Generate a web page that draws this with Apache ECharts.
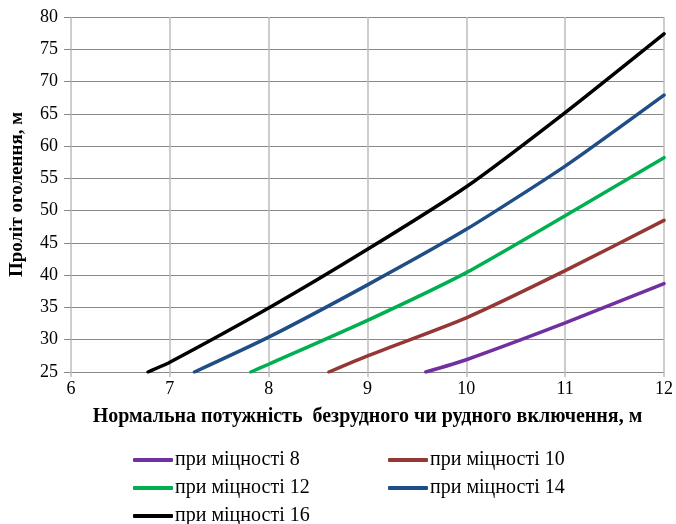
<!DOCTYPE html>
<html>
<head>
<meta charset="utf-8">
<script src="https://cdn.jsdelivr.net/npm/echarts@6/dist/echarts.min.js"></script>
<style>
  html, body { margin: 0; padding: 0; background: #fff; }
  #chart { width: 676px; height: 524px; }
</style>
</head>
<body>
<div id="chart"></div>
<script>
// Span of the exposure vs. normal thickness of the barren/ore inclusion, per strength grade
const seriesNames = ['при міцності 8', 'при міцності 10', 'при міцності 12', 'при міцності 14', 'при міцності 16'];
const seriesColors = ['#7030A0', '#953735', '#00B050', '#1F4E87', '#000000'];

// [thickness, span] pairs for each strength grade
const strength8  = [[9.59, 25], [10, 26.9], [11, 32.6], [12, 38.7]];
const strength10 = [[8.61, 25], [9, 27.5], [10, 33.4], [11, 40.7], [12, 48.5]];
const strength12 = [[7.82, 25], [8, 26.2], [9, 33.0], [10, 40.4], [11, 49.2], [12, 58.2]];
const strength14 = [[7.25, 25], [8, 30.4], [9, 38.5], [10, 47.1], [11, 56.9], [12, 67.9]];
const strength16 = [[6.78, 25], [7, 26.5], [8, 34.9], [9, 44.0], [10, 53.7], [11, 65.2], [12, 77.4]];
const seriesData = [strength8, strength10, strength12, strength14, strength16];

const xTicks = [6, 7, 8, 9, 10, 11, 12];
const yTicks = [25, 30, 35, 40, 45, 50, 55, 60, 65, 70, 75, 80];

const serif = '"Liberation Serif", "Times New Roman", serif';

// Legend entries laid out in two columns, one legend component per entry
const legendSlots = [
  { left: 133, top: 450 },
  { left: 388, top: 450 },
  { left: 133, top: 478 },
  { left: 388, top: 478 },
  { left: 133, top: 506 }
];

const chart = echarts.init(document.getElementById('chart'), null, { renderer: 'canvas' });

chart.setOption({
  backgroundColor: '#ffffff',
  animation: false,
  grid: { left: 70.5, right: 10, top: 17, bottom: 152, containLabel: false },
  xAxis: {
    type: 'value',
    min: xTicks[0],
    max: xTicks[xTicks.length - 1],
    interval: 1,
    name: 'Нормальна потужність  безрудного чи рудного включення, м',
    nameLocation: 'middle',
    nameGap: 35,
    nameTextStyle: { fontFamily: serif, fontWeight: 'bold', fontSize: 20, color: '#000' },
    axisLine: { show: true, lineStyle: { color: '#888888', width: 1 } },
    axisTick: { show: true, length: 5, lineStyle: { color: '#bdbdbd', width: 1.5 } },
    axisLabel: { fontFamily: serif, fontSize: 18, color: '#000', margin: 8 },
    splitLine: { show: true, lineStyle: { color: '#bdbdbd', width: 1.5 } }
  },
  yAxis: {
    type: 'value',
    min: yTicks[0],
    max: yTicks[yTicks.length - 1],
    interval: 5,
    name: 'Проліт оголення, м',
    nameLocation: 'middle',
    nameGap: 44,
    nameTextStyle: { fontFamily: serif, fontWeight: 'bold', fontSize: 19, color: '#000' },
    axisLine: { show: false },
    axisTick: { show: true, length: 7, lineStyle: { color: '#888888', width: 1 } },
    axisLabel: { fontFamily: serif, fontSize: 18, color: '#000', margin: 13 },
    splitLine: { show: true, lineStyle: { color: '#888888', width: 1 } }
  },
  legend: legendSlots.map((slot, i) => ({
    data: [seriesNames[i]],
    left: slot.left,
    top: slot.top,
    orient: 'horizontal',
    itemWidth: 40,
    itemHeight: 4,
    itemGap: 0,
    padding: 0,
    icon: 'roundRect',
    textStyle: { fontFamily: serif, fontSize: 20, color: '#000', padding: [0, 0, 0, -3] }
  })),
  series: seriesNames.map((name, i) => ({
    name: name,
    type: 'line',
    data: seriesData[i],
    smooth: 0.2,
    showSymbol: false,
    symbol: 'none',
    clip: true,
    lineStyle: { color: seriesColors[i], width: 3.5, cap: 'round' },
    itemStyle: { color: seriesColors[i] }
  }))
});
</script>
</body>
</html>
